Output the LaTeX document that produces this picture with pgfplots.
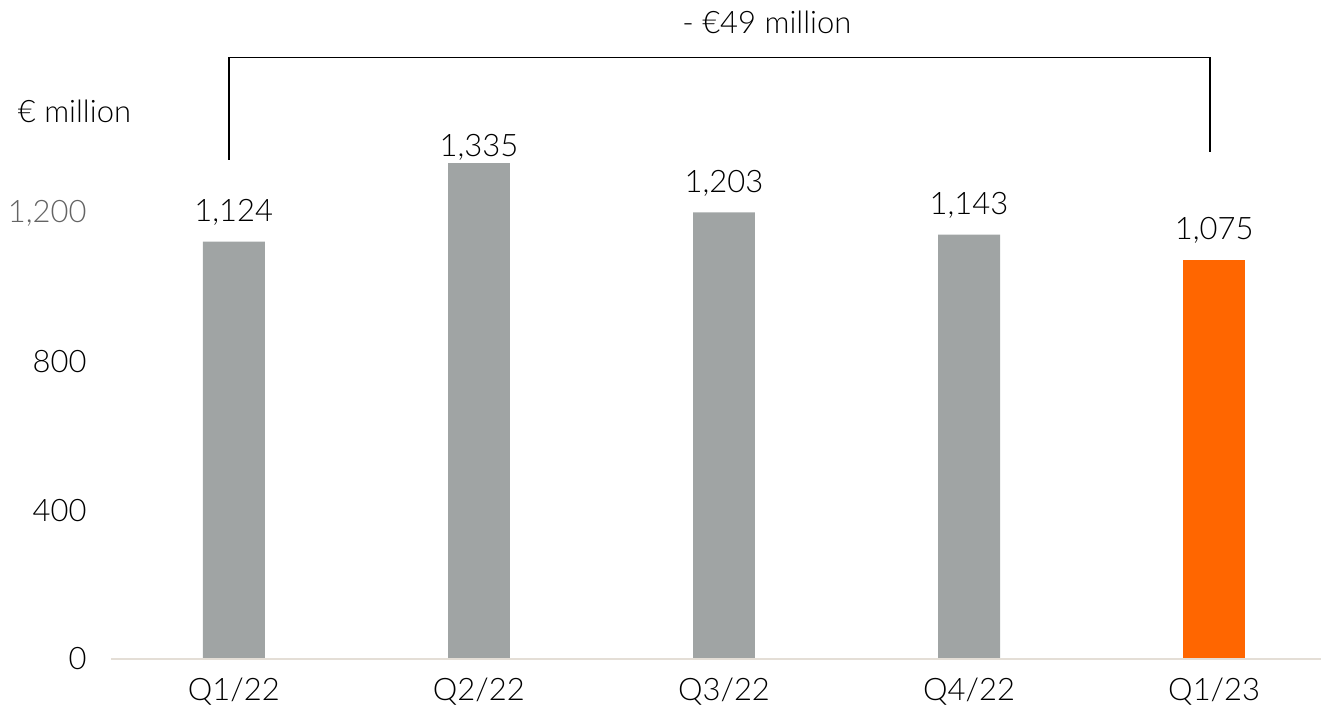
\documentclass[border=0pt]{standalone}
\usepackage{pgfplots}
\pgfplotsset{compat=1.18}
\usepackage{fontspec}
\setmainfont{Lato}[UprightFont=* Light]
\definecolor{barg}{RGB}{160,164,164}
\definecolor{ingor}{RGB}{255,102,0}
\definecolor{axl}{RGB}{228,222,214}
\definecolor{tgray}{RGB}{100,100,100}
\begin{document}
\fontsize{15.5}{18}\selectfont
\begin{tikzpicture}[font=\fontsize{15.5}{18}\selectfont]
\begin{axis}[
  scale only axis, width=605.5pt, height=260pt,
  xmin=-0.5015, xmax=4.436, ymin=0, ymax=1400,
  axis line style={draw=none},
  major tick length=0pt,
  xtick={0,1,2,3,4},
  xticklabels={Q1/22,Q2/22,Q3/22,Q4/22,Q1/23},
  xticklabel style={anchor=base, inner sep=0pt, yshift=-21pt},
  ytick={0,400,800,1200},
  yticklabels={0,400,800,{\textcolor{tgray}{1,200}}},
  yticklabel style={anchor=east, inner sep=0pt, xshift=-12pt},
  clip=false,
  ybar, bar width=31pt, bar shift=0pt,
  point meta=explicit symbolic,
  nodes near coords,
  every node near coord/.append style={anchor=base, yshift=10pt, text=black},
]
\addplot[fill=barg, draw=none] coordinates {(0,1124) [1,124] (2,1203) [1,203] (3,1143) [1,143]};
\addplot[fill=barg, draw=none, every node near coord/.append style={yshift=-6.5pt}] coordinates {(1,1335) [1,335]};
\addplot[fill=ingor, draw=none] coordinates {(4,1075) [1,075]};
\draw[axl, line width=1pt] (axis cs:-0.5015,0) -- (axis cs:4.436,0);
\draw[black, line width=0.8pt] (axis cs:-0.02,1345) -- (axis cs:-0.02,1620) -- (axis cs:3.984,1620) -- (axis cs:3.984,1366);
\node[anchor=base] at (axis cs:2.175,1686) {- €49 million};
\node[anchor=base] at (axis cs:-0.650,1444) {€ million};
\path (axis cs:-0.954,-138.6) rectangle (axis cs:4.436,1775);
\end{axis}
\end{tikzpicture}
\end{document}
